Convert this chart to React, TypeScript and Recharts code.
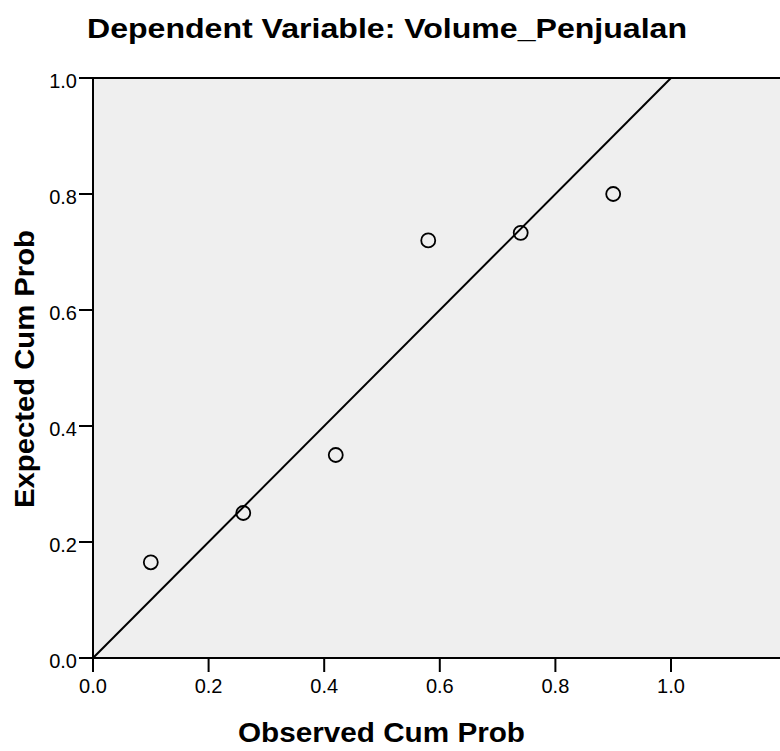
import {
  ScatterChart,
  Scatter,
  XAxis,
  YAxis,
  CartesianGrid,
  ReferenceLine,
} from "recharts";

// observed vs expected cumulative probability
const observed = [0.1, 0.26, 0.42, 0.58, 0.74, 0.9];
const expected = [0.165, 0.25, 0.35, 0.72, 0.733, 0.8];
const axisTicks = [0, 0.2, 0.4, 0.6, 0.8, 1.0];

const points = observed.map((x, i) => ({ x, y: expected[i] }));

const FONT = '"Liberation Sans", Arial, sans-serif';

const OpenCircle = (props: any) => (
  <circle
    cx={props.cx}
    cy={props.cy}
    r={7}
    fill="none"
    stroke="#000"
    strokeWidth={1.8}
  />
);

export default function App() {
  return (
    <div
      style={{
        position: "absolute",
        left: 0,
        top: 0,
        width: 780,
        height: 751,
        fontFamily: FONT,
        background: "#fff",
      }}
    >
      <ScatterChart
        width={780}
        height={751}
        margin={{ top: 78, right: 0, left: 0, bottom: 0 }}
      >
        <CartesianGrid
          fill="#EFEFEF"
          horizontal={false}
          vertical={false}
        />
        <XAxis
          type="number"
          dataKey="x"
          domain={[0, 1.1886]}
          allowDataOverflow
          ticks={axisTicks}
          tickFormatter={(v: number) => v.toFixed(1)}
          height={93}
          tickSize={14}
          tickMargin={7}
          axisLine={{ stroke: "#000", strokeWidth: 2 }}
          tickLine={{ stroke: "#000", strokeWidth: 2 }}
          tick={{ fill: "#000", fontSize: 20, fontFamily: FONT }}
        />
        <YAxis
          type="number"
          dataKey="y"
          domain={[0, 1]}
          ticks={axisTicks}
          tickFormatter={(v: number) => v.toFixed(1)}
          width={93}
          tickSize={14}
          tickMargin={2}
          axisLine={{ stroke: "#000", strokeWidth: 2 }}
          tickLine={{ stroke: "#000", strokeWidth: 2 }}
          tick={{ fill: "#000", fontSize: 20, fontFamily: FONT, dy: 3 }}
        />
        <ReferenceLine y={1} stroke="#000" strokeWidth={2} ifOverflow="visible" />
        <ReferenceLine
          segment={[
            { x: 0, y: 0 },
            { x: 1, y: 1 },
          ]}
          stroke="#000"
          strokeWidth={2}
        />
        <Scatter data={points} shape={OpenCircle} isAnimationActive={false} />
      </ScatterChart>
      <svg
        width={780}
        height={751}
        style={{ position: "absolute", left: 0, top: 0, pointerEvents: "none" }}
      >
        <text
          x={387}
          y={38}
          textAnchor="middle"
          textLength={600}
          lengthAdjust="spacingAndGlyphs"
          fontFamily={FONT}
          fontWeight="bold"
          fontSize={28}
          fill="#000"
        >
          Dependent Variable: Volume_Penjualan
        </text>
        <text
          x={381.5}
          y={742}
          textAnchor="middle"
          textLength={287}
          lengthAdjust="spacingAndGlyphs"
          fontFamily={FONT}
          fontWeight="bold"
          fontSize={27}
          fill="#000"
        >
          Observed Cum Prob
        </text>
        <text
          x={34}
          y={369}
          textAnchor="middle"
          textLength={278}
          lengthAdjust="spacingAndGlyphs"
          transform="rotate(-90 34 369)"
          fontFamily={FONT}
          fontWeight="bold"
          fontSize={27}
          fill="#000"
        >
          Expected Cum Prob
        </text>
      </svg>
    </div>
  );
}
